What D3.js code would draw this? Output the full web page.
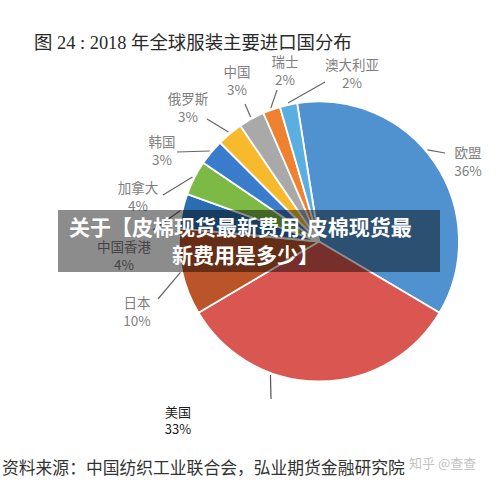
<!DOCTYPE html>
<html>
<head>
<meta charset="utf-8">
<script src="https://cdn.jsdelivr.net/npm/d3@7"></script>
<style>
  html, body { margin: 0; padding: 0; background: #fff; }
  svg { display: block; }
</style>
</head>
<body>
<svg id="chart" width="500" height="484"></svg>
<script>
// ---- data ----
const categories = ["欧盟", "美国", "日本", "中国香港", "加拿大", "韩国", "俄罗斯", "中国", "瑞士", "澳大利亚"];
const shares = [36, 33, 10, 4, 4, 3, 3, 3, 2, 2];
const sliceColors = ["#4f92cf", "#d95651", "#bb5529", "#2a6db0", "#7cba45", "#3b7bcb", "#f7ba2c", "#a9a9a9", "#ef8230", "#5aaee0"];
const titleText = "图 24 : 2018 年全球服装主要进口国分布";
const sourceText = "资料来源：中国纺织工业联合会，弘业期货金融研究院";
const watermarkText = "知乎 @查查";
const overlayLines = ["关于【皮棉现货最新费用,皮棉现货最", "新费用是多少】"];

// ---- layout (annotation placement, not data) ----
const labelLayout = [
  { x: 468, y: 153, ox: 445, oy: 153, da: -6 },   // 欧盟
  { x: 178, y: 412, ox: 271, oy: 399, da: 20, dark: true }, // 美国
  { x: 137, y: 303, ox: 158, oy: 299, da: 0 },    // 日本
  { x: 124, y: 247, ox: 153, oy: 230, da: 0 },    // 中国香港
  { x: 138, y: 188, ox: 163, oy: 195, da: 0 },    // 加拿大
  { x: 162, y: 142, ox: 177, oy: 152, da: 0 },    // 韩国
  { x: 188, y: 99,  ox: 207, oy: 119, da: 0 },    // 俄罗斯
  { x: 237, y: 72,  ox: 245, oy: 104, da: 0 },    // 中国
  { x: 285, y: 62,  ox: 277, oy: 90,  da: 0 },    // 瑞士
  { x: 352, y: 65,  ox: 325, oy: 82,  da: 0 }     // 澳大利亚
];

const svg = d3.select("#chart");
const cx = 319, cy = 241.5, R = 140;
const deg = Math.PI / 180;
const startA = -9 * deg;

// title
svg.append("text")
  .attr("x", 34).attr("y", 49)
  .attr("font-family", "'Liberation Serif', 'Noto Sans CJK SC', serif")
  .attr("font-size", 18.4)
  .attr("fill", "#2a2a2a")
  .text(titleText);

const pie = d3.pie().sort(null).value(d => d)
  .startAngle(startA).endAngle(startA + 2 * Math.PI);
const arcs = pie(shares);
const arc = d3.arc().innerRadius(0).outerRadius(R);

const g = svg.append("g").attr("transform", `translate(${cx},${cy})`);
g.selectAll("path.slice").data(arcs).enter().append("path")
  .attr("class", "slice")
  .attr("d", arc)
  .attr("fill", (d, i) => sliceColors[i])
  .attr("stroke", "#fff")
  .attr("stroke-width", 1.8)
  .attr("stroke-linejoin", "round");

// leader lines
arcs.forEach((d, i) => {
  const L = labelLayout[i];
  const a = (d.startAngle + d.endAngle) / 2 + L.da * deg;
  const ix = cx + (R + 2) * Math.sin(a);
  const iy = cy - (R + 2) * Math.cos(a);
  svg.append("line")
    .attr("x1", ix).attr("y1", iy)
    .attr("x2", L.ox).attr("y2", L.oy)
    .attr("stroke", L.dark ? "#555" : "#666")
    .attr("stroke-width", 1.2);
});

// labels
categories.forEach((c, i) => {
  const L = labelLayout[i];
  const t = svg.append("text")
    .attr("text-anchor", "middle")
    .attr("font-family", "'Noto Sans CJK SC', 'DejaVu Sans', sans-serif")
    .attr("font-size", L.dark ? 13 : 13.5)
    .attr("fill", L.dark ? "#1a1a1a" : "#7f7f7f");
  t.append("tspan").attr("x", L.x).attr("y", L.y + 5).text(c);
  t.append("tspan").attr("x", L.x).attr("y", L.y + (L.dark ? 22 : 23)).text(shares[i] + "%");
});

// source
svg.append("text")
  .attr("x", 2).attr("y", 474)
  .attr("font-family", "'Liberation Serif', 'Noto Sans CJK SC', serif")
  .attr("font-size", 16.8)
  .attr("fill", "#333")
  .text(sourceText);

svg.append("text")
  .attr("x", 409).attr("y", 468)
  .attr("font-family", "'Noto Sans CJK SC', sans-serif")
  .attr("font-size", 13)
  .attr("fill", "#c4c4c4")
  .text(watermarkText);

// overlay banner
svg.append("rect")
  .attr("x", 58).attr("y", 210).attr("width", 382).attr("height", 62)
  .attr("fill", "rgba(0,0,0,0.45)");
const ot = svg.append("text")
  .attr("font-family", "'Noto Sans CJK SC', sans-serif")
  .attr("font-weight", 700)
  .attr("font-size", 21)
  .attr("fill", "#fff");
ot.append("tspan").attr("x", 69).attr("y", 235).text(overlayLines[0]);
ot.append("tspan").attr("x", 172).attr("y", 263).text(overlayLines[1]);
</script>
</body>
</html>
